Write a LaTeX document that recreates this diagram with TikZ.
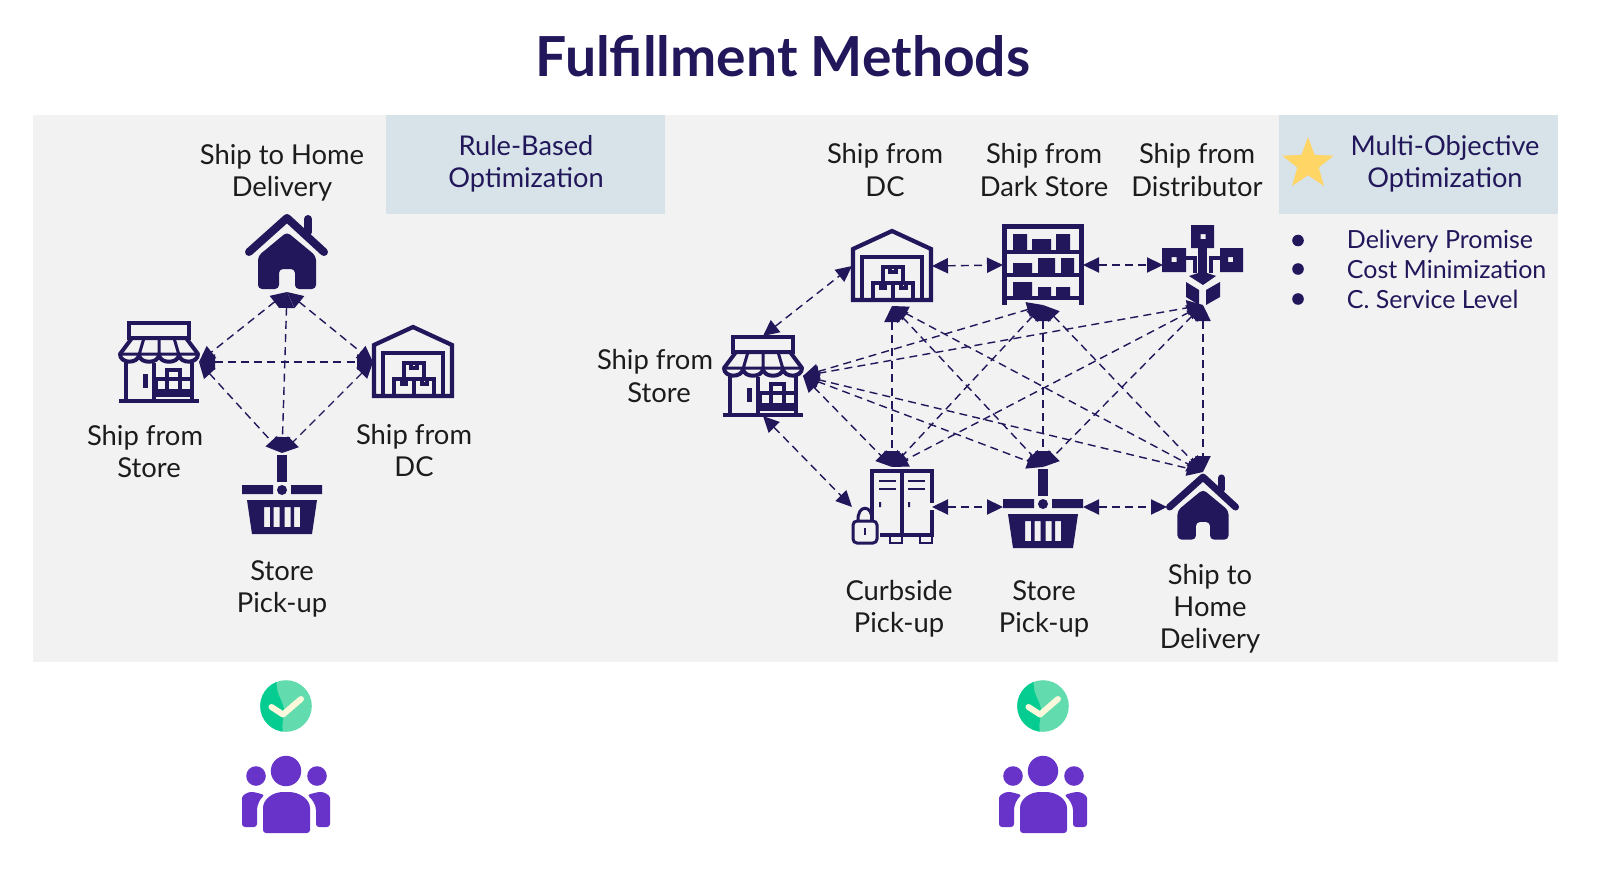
\documentclass[tikz,border=0pt]{standalone}
\usepackage{fontspec}
\setmainfont{Lato}
\usetikzlibrary{arrows.meta,shapes.geometric}
\definecolor{navy}{HTML}{21175A}
\definecolor{panelgray}{HTML}{F2F2F2}
\definecolor{boxblue}{HTML}{D7E3E8}
\definecolor{goldstar}{HTML}{FFD666}
\definecolor{checklight}{HTML}{62DCAE}
\definecolor{checkdark}{HTML}{05CD92}
\definecolor{checkmark}{HTML}{FBF8DC}
\definecolor{peoplecol}{HTML}{6733C9}
\definecolor{labelcol}{HTML}{1C1C1C}
\tikzset{
  iconbox/.style={inner sep=0pt,outer sep=0pt,minimum width=40pt,minimum height=40pt},
  homebox/.style={inner sep=0pt,outer sep=0pt,minimum width=36pt,minimum height=35pt},
  lbl/.style={align=center,text=labelcol,font=\fontsize{13.7}{16.1}\selectfont,inner sep=0pt},
  optlbl/.style={align=center,text=navy,font=\fontsize{13.6}{16.1}\selectfont,inner sep=0pt},
  bultext/.style={anchor=west,text=navy,font=\fontsize{12.5}{15}\selectfont,inner sep=0pt},
  bulletdot/.style={circle,fill=navy,inner sep=0pt,minimum size=5.8pt},
  link/.style={navy,line width=.7pt,dash pattern=on 4pt off 2.6pt,{Triangle[length=8pt,width=7.6pt]}-{Triangle[length=8pt,width=7.6pt]}},
  storeicon/.pic={
    \draw[navy,line width=2pt] (-30,-24) rectangle (30,-39);
    \draw[navy,line width=2pt,line join=round] (-27,-24) -- (27,-24) -- (39,-8)
       .. controls (39,2) and (21,2) .. (20,-7) .. controls (19,2) and (1,2) .. (0,-7)
       .. controls (-1,2) and (-19,2) .. (-20,-7) .. controls (-21,2) and (-39,2) .. (-39,-8) -- cycle;
    \draw[navy,line width=1.5pt] (-39,-8) -- (39,-8) (-15,-24) -- (-20,-7) (0,-24) -- (0,-7) (15,-24) -- (20,-7);
    \draw[navy,line width=2pt] (-33,-1) -- (-33,38) (33,-1) -- (33,38) (-40,38.5) -- (40,38.5) (-5,1) -- (-5,38);
    \fill[navy] (-16,12) rectangle (-11,26);
    \draw[navy,line width=1.7pt] (-3,17) rectangle (33,29) (8,8) rectangle (21,29) (-5,33) -- (33,33);
  },
  dcicon/.pic={
    \draw[navy,line width=2.1pt,miter limit=3] (-39,34) -- (-39,-17) -- (0,-35) -- (39,-17) -- (39,34) -- cycle;
    \draw[navy,line width=2pt] (-30,34) -- (-30,-9) -- (30,-9) -- (30,34);
    \draw[navy,line width=1.9pt] (-9,17) -- (-9,1) -- (11,1) -- (11,17) (-19,33) -- (-19,17) -- (21,17) -- (21,33) (1,17) -- (1,33) (-2,1) -- (-2,6) -- (4,6) -- (4,1) (-11,17) -- (-11,22) -- (-7,22) -- (-7,17) (9,17) -- (9,22) -- (14,22) -- (14,17);
  },
  homeicon/.pic={
    \draw[navy,line width=#1,line cap=round,line join=round] (-38,0) -- (0,-34) -- (37,0);
    \draw[navy,line width=#1,line cap=round] (21,-20) -- (21,-33);
    \fill[navy,rounded corners=2pt] (-29,37) -- (-29,4) -- (0,-20) -- (29,4) -- (29,37) -- (8,37) -- (8,17) -- (-8,17) -- (-8,37) -- cycle;
  },
  basketicon/.pic={
    \fill[navy] (-5,-38) rectangle (5,-11);
    \fill[navy] (-40,-8) rectangle (-9,1) (9,-8) rectangle (40,1);
    \fill[navy] (0,-3) circle[radius=2.5pt];
    \fill[navy,even odd rule] (-35,7) -- (35,7) -- (30,41) -- (-30,41) -- cycle
      (-18,14) rectangle (-12,34) (-8.5,14) rectangle (-2.5,34) (2.5,14) rectangle (8.5,34) (12,14) rectangle (18,34);
  },
  rackicon/.pic={
    \draw[navy,line width=2.1pt] (-38.5,40) -- (-38.5,-38.5) -- (38.5,-38.5) -- (38.5,40) (-38,-13) -- (38,-13) (-38,10) -- (38,10) (-38,33) -- (38,33);
    \fill[navy] (-30,-13) rectangle (-16,-31) (-11,-13) rectangle (8,-26) (13,-13) rectangle (27,-31)
      (-30,10) rectangle (-11,-2) (-5,10) rectangle (12,-7) (18,10) rectangle (31,-7)
      (-30,33) rectangle (-11,17) (-5,33) rectangle (8,22) (13,33) rectangle (27,22);
  },
  disticon/.pic={
    \fill[navy,even odd rule] (-12,-40) rectangle (11,-17) (-2.5,-31) rectangle (2.5,-26);
    \fill[navy,even odd rule] (-41,-17) rectangle (-17,7) (-31.5,-8) rectangle (-26.5,-3);
    \fill[navy,even odd rule] (17,-17) rectangle (40,7) (25,-8) rectangle (30,-3);
    \draw[navy,line width=1.7pt] (-17,-7) -- (-8,-7) -- (-8,8) (17,-7) -- (8,-7) -- (8,8);
    \fill[navy] (-5,-17) rectangle (4,10);
    \fill[navy] (-14,11) -- (-5,8) -- (4,8) -- (13,11) -- (0,20) -- cycle;
    \fill[navy] (-17,17) -- (-4,25) -- (-4,40) -- (-17,32) -- cycle (3,25) -- (17,17) -- (17,32) -- (3,40) -- cycle;
  },
  lockericon/.pic={
    \draw[navy,line width=1.6pt] (-20,13) -- (-20,-36) -- (40,-36) -- (40,-4) (40,3) -- (40,28) -- (-12,28) (10,-36) -- (10,28);
    \draw[navy,line width=1.4pt] (-13,-26) -- (4,-26) (-13,-18) -- (4,-18) (16,-26) -- (33,-26) (16,-18) -- (33,-18);
    \fill[navy] (-13,-5) rectangle (-11,0) (16,-5) rectangle (18,0);
    \draw[navy,line width=1.4pt] (-2,28) -- (-2,36) -- (10,36) -- (10,28) (28,28) -- (28,36) -- (40,36) -- (40,28);
    \draw[navy,line width=1.5pt,rounded corners=2pt] (-39,14) rectangle (-15,36);
    \draw[navy,line width=1.5pt] (-34,14) .. controls (-35,-3) and (-19,-3) .. (-20,14);
    \fill[navy] (-28,21) rectangle (-26,28);
  },
  checkicon/.pic={
    \fill[checklight] (0,0) circle[radius=12.9pt];
    \begin{scope}
      \clip (0,0) circle[radius=12.9pt];
      \fill[checkdark] (-27,-27) -- (-9,-27) .. controls (-11,-12) and (-4,-8) .. (-2,3) .. controls (-1,10) and (-5,15) .. (-3,27) -- (-27,27) -- cycle;
    \end{scope}
    \draw[checkmark,line width=3pt,line cap=round,line join=round] (-14.5,1) -- (-3,8.5) -- (15,-7);
  },
  peopleicon/.pic={
    \fill[peoplecol] (0,0) circle[radius=7.6pt] (-30,5) circle[radius=4.9pt] (31,5) circle[radius=4.9pt];
    \fill[peoplecol,rounded corners=1.5pt] (-23,62) -- (-23,40) .. controls (-23,28) and (-13,21) .. (0,21) .. controls (13,21) and (24,28) .. (24,40) -- (24,62) -- cycle;
    \fill[peoplecol,rounded corners=1.5pt] (-29,56) -- (-44,56) -- (-44,30) .. controls (-44,24) and (-38,21) .. (-32,21) -- (-21,24) .. controls (-26,28) and (-29,34) .. (-29,42) -- cycle;
    \fill[peoplecol,rounded corners=1.5pt] (30,56) -- (44,56) -- (44,30) .. controls (44,24) and (38,21) .. (32,21) -- (21,24) .. controls (26,28) and (30,34) .. (30,42) -- cycle;
  },
}
\begin{document}
\begin{tikzpicture}[x=0.5pt,y=-0.5pt]
\useasboundingbox (0,0) rectangle (1600,888);
\fill[white] (0,0) rectangle (1600,888);
\fill[panelgray] (33,115) rectangle (1558,662);
\fill[boxblue] (386,115) rectangle (665,214);
\fill[boxblue] (1279,115) rectangle (1558,214);

\node[text=navy,font=\fontsize{27.6}{32}\selectfont\bfseries,inner sep=0pt] (title) at (783,56) {Fulfillment Methods};
\node[optlbl] (rule) at (526,164) {Rule-Based\\Optimization};
\node[optlbl] (multi) at (1445,164) {Multi-Objective\\Optimization};
\node[star,star points=5,star point ratio=2.4,fill=goldstar,inner sep=0pt,minimum size=27pt] (starmark) at (1308,164) {};

% left diagram icons
\node[iconbox] (lhome) at (287,252) {};
\node[iconbox] (lstore) at (159,362) {};
\node[iconbox] (ldc) at (413,362) {};
\node[iconbox] (lbasket) at (282,493) {};
\pic at (lhome) {homeicon=4pt};
\pic at (lstore) {storeicon};
\pic at (ldc) {dcicon};
\pic at (lbasket) {basketicon};

\node[lbl] (lhometxt) at (282,172.5) {Ship to Home\\Delivery};
\node[lbl] (lstoretxt) at (145,451.5) {Ship from\\\hspace*{4pt}Store};
\node[lbl] (ldctxt) at (414,450.5) {Ship from\\DC};
\node[lbl] (lbaskettxt) at (282,589) {Store\\Pick-up};

\draw[link] (lhome.south) -- (lstore.east);
\draw[link] (lhome.south) -- (ldc.west);
\draw[link] (lhome.south) -- (lbasket.north);
\draw[link] (lstore.east) -- (ldc.west);
\draw[link] (lstore.east) -- (lbasket.north);
\draw[link] (ldc.west) -- (lbasket.north);

% right diagram icons
\node[iconbox] (rdc) at (892,266) {};
\node[iconbox] (rrack) at (1043,265) {};
\node[iconbox] (rdist) at (1203,265) {};
\node[iconbox] (rstore) at (763,376) {};
\node[iconbox] (rlocker) at (892,507) {};
\node[iconbox] (rbasket) at (1043,507) {};
\node[homebox] (rhome) at (1203,507) {};
\pic at (rdc) {dcicon};
\pic at (rrack) {rackicon};
\pic at (rdist) {disticon};
\pic at (rstore) {storeicon};
\pic at (rlocker) {lockericon};
\pic at (rbasket) {basketicon};
\pic[scale=.88] at (rhome) {homeicon=3.5pt};

\node[lbl] (rdctxt) at (885,170) {Ship from\\DC};
\node[lbl] (rracktxt) at (1044,170) {Ship from\\Dark Store};
\node[lbl] (rdisttxt) at (1197,170) {Ship from\\Distributor};
\node[lbl] (rstoretxt) at (655,376) {Ship from\\\hspace*{4pt}Store};
\node[lbl] (rlockertxt) at (899,609) {Curbside\\Pick-up};
\node[lbl] (rbaskettxt) at (1044,609) {Store\\Pick-up};
\node[lbl] (rhometxt) at (1210,609) {Ship to\\Home\\Delivery};

\draw[link] (rstore.north) -- (rdc.west);
\draw[link] (rstore.south) -- (rlocker.west);
\draw[link] (rdc.east) -- (rrack.west);
\draw[link] (rrack.east) -- (rdist.west);
\draw[link] (rlocker.east) -- (rbasket.west);
\draw[link] (rbasket.east) -- (rhome.west);
\foreach \src in {rstore.east,rdc.south,rrack.south,rdist.south}
  \foreach \dst in {rlocker.north,rbasket.north,rhome.north}
    \draw[link] (\src) -- (\dst);
\draw[link] (rstore.east) -- (rrack.south);
\draw[link] (rstore.east) -- (rdist.south);

% bullets
\node[bulletdot] (b1) at (1298,240.5) {};
\node[bulletdot] (b2) at (1298,269) {};
\node[bulletdot] (b3) at (1298,299) {};
\node[bultext] (t1) at (1346.5,241) {Delivery Promise};
\node[bultext] (t2) at (1346.5,269) {Cost Minimization};
\node[bultext] (t3) at (1346.5,299) {C. Service Level};

% bottom icons
\pic at (286,706) {checkicon};
\pic at (1043,706) {checkicon};
\pic at (286,771) {peopleicon};
\pic at (1043,771) {peopleicon};
\end{tikzpicture}
\end{document}
